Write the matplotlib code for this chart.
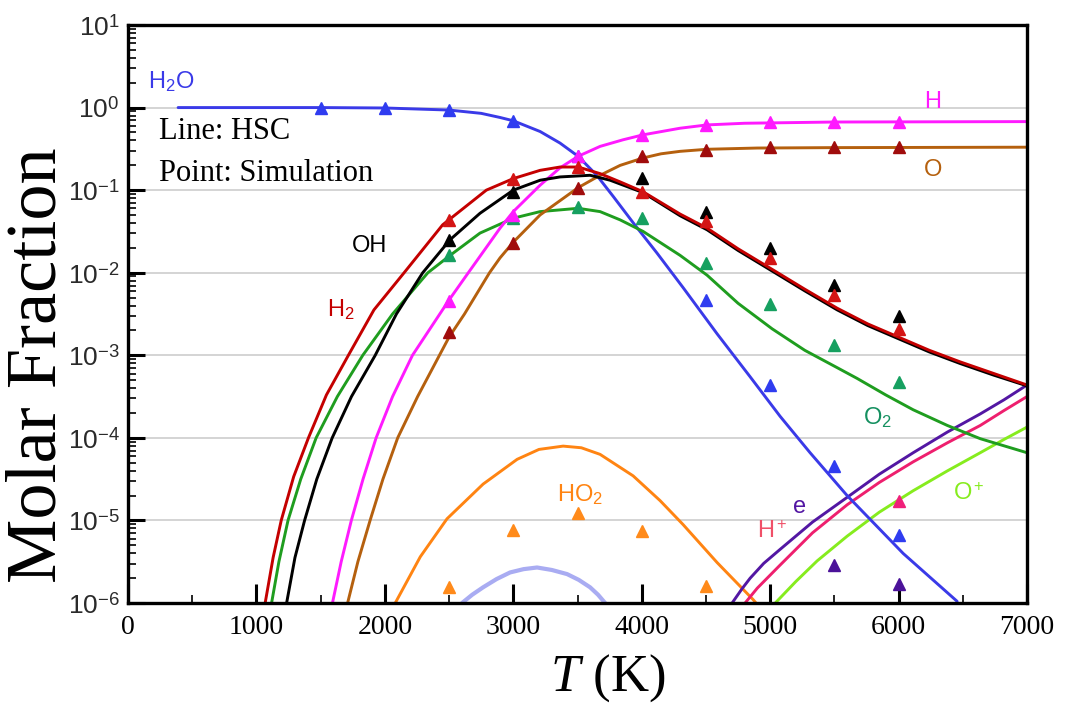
import numpy as np
import matplotlib
matplotlib.use("Agg")
import matplotlib.pyplot as plt
from matplotlib.ticker import FixedLocator, NullFormatter

plt.rcParams['mathtext.fontset'] = 'custom'
plt.rcParams['mathtext.rm'] = 'Liberation Sans'
plt.rcParams['mathtext.it'] = 'Liberation Serif:italic'
plt.rcParams['mathtext.bf'] = 'Liberation Sans:bold'

# ---------------- HSC lines (T in K, log10 of molar fraction) ----------------
T_h2o = [390, 1000, 1500, 2000, 2500, 2750, 2897, 3000, 3209, 3364, 3505, 3650, 3780, 3936, 4118,
         4322, 4587, 4844, 5078, 5311, 5600, 6036, 6456]
L_h2o = [0.0, 0.0, 0.0, -0.005, -0.03, -0.07, -0.12, -0.16, -0.29, -0.43, -0.59, -0.82, -1.08, -1.40, -1.76,
         -2.18, -2.74, -3.26, -3.74, -4.18, -4.70, -5.40, -5.98]

T_h = [1592, 1660, 1739, 1830, 1932, 2060, 2215, 2500, 2650, 2897, 3000, 3209, 3364, 3505, 3676, 3855,
       4011, 4299, 4509, 4800, 5500, 7000]
L_h = [-6.0, -5.5, -5.0, -4.5, -4.0, -3.5, -3.0, -2.33, -2.0, -1.46, -1.26, -0.94, -0.73, -0.59, -0.47, -0.39,
       -0.33, -0.25, -0.21, -0.19, -0.175, -0.17]

T_o = [1710, 1790, 1885, 1985, 2100, 2255, 2425, 2500, 2620, 2815, 2897, 3000, 3209, 3505, 3676, 3832,
       4011, 4150, 4299, 4509, 4900, 5500, 7000]
L_o = [-6.0, -5.5, -5.0, -4.5, -4.0, -3.5, -3.0, -2.78, -2.5, -2.0, -1.82, -1.63, -1.30, -0.97, -0.82, -0.70,
       -0.61, -0.56, -0.53, -0.505, -0.49, -0.485, -0.48]

T_h2 = [1068, 1130, 1193, 1290, 1405, 1545, 1716, 1915, 2150, 2450, 2790, 3000, 3209, 3364, 3505, 3676,
        3832, 4011, 4299, 4509, 4750, 5016, 5270, 5522, 5760, 6000, 6240, 6480, 6740, 7000]
L_h2 = [-6.0, -5.45, -5.0, -4.47, -4.0, -3.48, -3.0, -2.45, -2.0, -1.42, -1.0, -0.86, -0.76, -0.72, -0.72, -0.80,
        -0.90, -1.02, -1.29, -1.46, -1.71, -1.96, -2.20, -2.43, -2.62, -2.78, -2.94, -3.08, -3.22, -3.36]

T_oh = [1235, 1300, 1375, 1470, 1590, 1740, 1925, 2090, 2295, 2508, 2741, 3000, 3209, 3364, 3598, 3754,
        4011, 4299, 4509, 4750, 5016, 5270, 5522, 5760, 6000, 6240, 6480, 6740, 7000]
L_oh = [-6.0, -5.45, -5.0, -4.5, -4.0, -3.5, -3.0, -2.5, -2.0, -1.60, -1.28, -1.0, -0.88, -0.84, -0.82, -0.88,
        -1.03, -1.31, -1.48, -1.73, -1.98, -2.22, -2.45, -2.64, -2.80, -2.96, -3.10, -3.24, -3.37]

T_o2 = [1118, 1175, 1246, 1345, 1465, 1630, 1828, 2060, 2335, 2508, 2741, 3000, 3209, 3505, 3676, 3832,
        4011, 4299, 4509, 4750, 5016, 5270, 5522, 5677, 5900, 6114, 6380, 6636, 7000]
L_o2 = [-6.0, -5.5, -5.0, -4.5, -4.0, -3.5, -3.0, -2.5, -2.0, -1.79, -1.52, -1.34, -1.26, -1.22, -1.26, -1.36,
        -1.50, -1.79, -2.03, -2.37, -2.68, -2.94, -3.15, -3.28, -3.48, -3.66, -3.85, -4.01, -4.18]

T_ho2 = [2081, 2276, 2484, 2765, 3030, 3200, 3388, 3530, 3676, 3933, 4143, 4322, 4587, 4868, 4890]
L_ho2 = [-6.0, -5.44, -4.98, -4.56, -4.26, -4.14, -4.10, -4.12, -4.20, -4.46, -4.76, -5.05, -5.51, -5.96, -6.0]

T_lav = [2601, 2680, 2765, 2870, 2975, 3080, 3185, 3300, 3419, 3510, 3598, 3660, 3715]
L_lav = [-6.0, -5.9, -5.81, -5.71, -5.63, -5.59, -5.57, -5.60, -5.65, -5.72, -5.81, -5.9, -6.0]

T_e = [4704, 4780, 4844, 4950, 5078, 5330, 5600, 5850, 6114, 6380, 6636, 6820, 7000]
L_e = [-6.0, -5.83, -5.70, -5.52, -5.35, -5.02, -4.72, -4.44, -4.18, -3.93, -3.71, -3.54, -3.36]

T_hp = [4805, 4900, 5078, 5330, 5600, 5850, 6114, 6380, 6636, 6820, 7000]
L_hp = [-6.0, -5.82, -5.54, -5.15, -4.81, -4.54, -4.29, -4.06, -3.85, -3.67, -3.50]

T_op = [5040, 5200, 5366, 5600, 5850, 6114, 6380, 6636, 6820, 7000]
L_op = [-6.0, -5.74, -5.49, -5.19, -4.90, -4.64, -4.40, -4.18, -4.02, -3.87]

# ---------------- Simulation points ----------------
P_h2o_T = [1500, 2000, 2500, 3000, 3500, 4500, 5000, 5500, 6000]
P_h2o_v = [1.0, 1.0, 0.93, 0.68, 0.26, 4.7e-3, 4.4e-4, 4.6e-5, 6.6e-6]
P_h_T = [2500, 3000, 3500, 4000, 4500, 5000, 5500, 6000]
P_h_v = [4.6e-3, 0.05, 0.26, 0.47, 0.62, 0.66, 0.67, 0.67]
P_o_T = [2500, 3000, 3500, 4000, 4500, 5000, 5500, 6000]
P_o_v = [1.9e-3, 0.023, 0.107, 0.26, 0.31, 0.33, 0.33, 0.33]
P_oh_T = [2500, 3000, 4000, 4500, 5000, 5500, 6000]
P_oh_v = [0.025, 0.095, 0.14, 0.054, 0.02, 7.1e-3, 3.0e-3]
P_h2_T = [2500, 3000, 3500, 4000, 4500, 5000, 5500, 6000]
P_h2_v = [0.044, 0.138, 0.19, 0.095, 0.042, 0.015, 5.4e-3, 2.1e-3]
P_o2_T = [2500, 3000, 3500, 4000, 4500, 5000, 5500, 6000]
P_o2_v = [0.0162, 0.046, 0.063, 0.046, 0.013, 4.2e-3, 1.32e-3, 4.8e-4]
P_ho2_T = [2500, 3000, 3500, 4000, 4500]
P_ho2_v = [1.55e-6, 7.6e-6, 1.23e-5, 7.4e-6, 1.6e-6]
P_hp_T = [6000]
P_hp_v = [1.7e-5]
P_e_T = [5500, 6000]
P_e_v = [2.9e-6, 1.7e-6]

x_ticks = [0, 1000, 2000, 3000, 4000, 5000, 6000, 7000]
y_exps = [-6, -5, -4, -3, -2, -1, 0, 1]

fig = plt.figure(figsize=(10.72, 7.07), dpi=100)
ax = fig.add_axes([128/1072, 1-603/707, 899/1072, 578/707])

lw = 2.1
def line(T, L, c, lw=lw, **kw):
    ax.plot(T, 10.0 ** np.asarray(L), color=c, lw=lw, solid_capstyle='round',
            solid_joinstyle='round', **kw)

line(T_lav, L_lav, '#a9acf2', lw=3.0)
line(T_ho2, L_ho2, '#ff8412')
line(T_op, L_op, '#86ec1e')
line(T_hp, L_hp, '#ee1f6e')
line(T_e, L_e, '#5317a3')
line(T_h2o, L_h2o, '#3a3ae8')
line(T_o2, L_o2, '#1f9d1f')
line(T_o, L_o, '#b5600e')
line(T_h, L_h, '#ff1aff')
line(T_oh, L_oh, '#000000')
line(T_h2, L_h2, '#c40000')

ms = 9
def pts(T, v, c):
    ax.plot(T, v, ls='none', marker='^', ms=ms, color=c, mec=c, zorder=5)

pts(P_ho2_T, P_ho2_v, '#ff8a1a')
pts(P_e_T, P_e_v, '#4b1299')
pts(P_hp_T, P_hp_v, '#f0207a')
pts(P_h2o_T, P_h2o_v, '#2f3cf0')
pts(P_o2_T, P_o2_v, '#16a060')
pts(P_o_T, P_o_v, '#a00c0c')
pts(P_h_T, P_h_v, '#ff1aff')
pts(P_oh_T, P_oh_v, '#000000')
pts(P_h2_T, P_h2_v, '#d41414')

ax.set_yscale('log')
ax.set_xlim(0, 7000)
ax.set_ylim(1e-6, 1e1)

# horizontal grid at decades
for e in y_exps[1:-1]:
    ax.axhline(10.0 ** e, color='#d4d4d4', lw=1.4, zorder=0)

ax.set_xticks(x_ticks)
ax.set_xticklabels([str(t) for t in x_ticks], fontfamily='Liberation Serif', fontsize=20)
ax.xaxis.set_minor_locator(FixedLocator([500, 1500, 2500, 3500, 4500, 5500, 6500]))
ax.set_yticks([10.0 ** e for e in y_exps])
ax.set_yticklabels(['10$^{%d}$' % e for e in y_exps], fontfamily='Liberation Sans', fontsize=19, color='#2a2a2a')
minors = [k * 10.0 ** e for e in y_exps[:-1] for k in range(2, 10)]
ax.yaxis.set_minor_locator(FixedLocator(minors))
ax.yaxis.set_minor_formatter(NullFormatter())
ax.tick_params(axis='both', which='major', direction='in', width=2.2, top=False, right=False)
ax.tick_params(axis='both', which='minor', direction='in', length=6, width=1.2, top=False, right=False)
ax.tick_params(axis='x', which='major', length=14, pad=9)
ax.tick_params(axis='y', which='major', length=12, pad=6)
for s in ax.spines.values():
    s.set_linewidth(2.4)

# species labels
lab = dict(fontfamily='Liberation Sans', fontsize=17, va='baseline', ha='left')
ax.text(156, 1.68, 'H$_2$O', color='#3a3ae8', **lab)
ax.text(6200, 0.99, 'H', color='#ff1aff', **lab)
ax.text(6200, 0.148, 'O', color='#b5600e', **lab)
ax.text(1745, 0.0177, 'OH', color='#000000', **lab)
ax.text(1550, 2.9e-3, 'H$_2$', color='#c40000', **lab)
ax.text(5724, 1.44e-4, 'O$_2$', color='#159060', **lab)
ax.text(3341, 1.68e-5, 'HO$_2$', color='#ff8412', **lab)
ax.text(5179, 1.23e-5, 'e', color='#5317a3', **lab)
ax.text(4899, 6.2e-6, 'H$^+$', color='#f05068', **lab)
ax.text(6425, 1.78e-5, 'O$^+$', color='#86ec1e', **lab)

ser = dict(fontfamily='Liberation Serif', fontsize=22, va='baseline', ha='left', transform=ax.transAxes)
ax.text(0.034, 0.803, 'Line: HSC', **ser)
ax.text(0.034, 0.730, 'Point: Simulation', **ser)

fig.text(38/1072, 1-365/707, 'Molar Fraction', rotation=90, ha='center', va='center',
         fontfamily='Liberation Serif', fontsize=52)
fig.text(608/1072, 1-678/707, '$\\mathit{T}$ (K)', ha='center', va='center',
         fontfamily='Liberation Serif', fontsize=38)

fig.savefig('out.png', dpi=100)
